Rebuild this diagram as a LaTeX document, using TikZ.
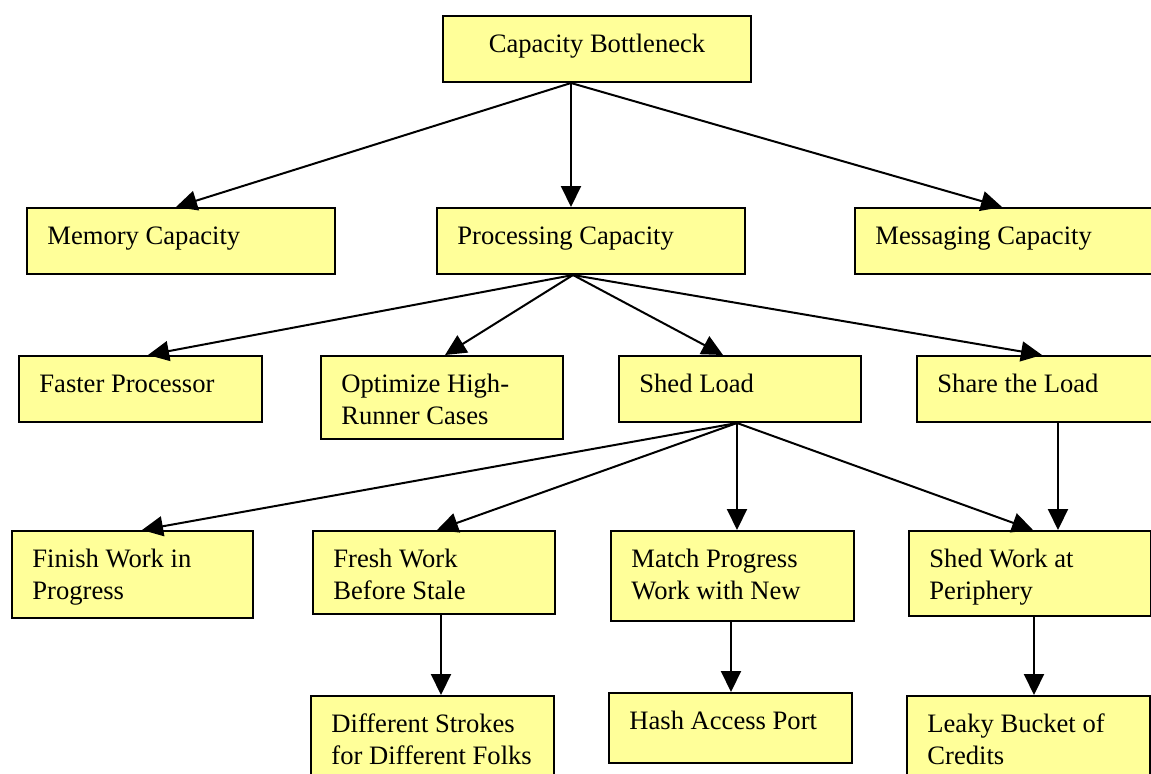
\documentclass[tikz,border=0pt]{standalone}
\usepackage{fontspec}
\setmainfont{Liberation Serif}
\usetikzlibrary{arrows.meta}
\definecolor{boxfill}{HTML}{FFFF99}
\tikzset{
  box/.style={draw=black, line width=1pt, fill=boxfill, rectangle,
    inner sep=0pt, anchor=north west},
  txt/.style={inner sep=0pt, anchor=north west, align=left,
    font=\fontsize{13.3}{16}\selectfont},
  link/.style={line width=1pt, -{Triangle[length=10.5pt, width=10pt]}},
}
% label placed in the upper left corner of a box
\newcommand{\boxtext}[2]{%
  \node[txt] (#1T) at ([shift={(10.5pt,-7.2pt)}]#1.north west) {\strut #2};}
\begin{document}
\begin{tikzpicture}[x=0.5pt, y=-0.5pt]
  \useasboundingbox (0,0) rectangle (1151,773);
  \clip (0,0) rectangle (1151,773);

  % boxes
  \node[box, minimum width=154pt, minimum height=33pt] (top) at (442,15) {};
  \node[txt, align=center, anchor=north] (topT) at ([yshift=-7.2pt]top.north) {\strut Capacity Bottleneck};

  \node[box, minimum width=154pt, minimum height=33pt] (mem) at (26,207) {};
  \boxtext{mem}{Memory Capacity}
  \node[box, minimum width=154pt, minimum height=33pt] (proc) at (436,207) {};
  \boxtext{proc}{Processing Capacity}
  \node[box, minimum width=154pt, minimum height=33pt] (msg) at (854,207) {};
  \boxtext{msg}{Messaging Capacity}

  \node[box, minimum width=121.5pt, minimum height=33pt] (fast) at (18,355) {};
  \boxtext{fast}{Faster Processor}
  \node[box, minimum width=121pt, minimum height=41.5pt] (opt) at (320,355) {};
  \boxtext{opt}{Optimize High-\\Runner Cases}
  \node[box, minimum width=121pt, minimum height=33pt] (shed) at (618,355) {};
  \boxtext{shed}{Shed Load}
  \node[box, minimum width=121pt, minimum height=33pt] (share) at (916,355) {};
  \boxtext{share}{Share the Load}

  \node[box, minimum width=120.5pt, minimum height=43.5pt] (finish) at (11,530) {};
  \boxtext{finish}{Finish Work in\\Progress}
  \node[box, minimum width=121pt, minimum height=41.5pt] (fresh) at (312,530) {};
  \boxtext{fresh}{Fresh Work\\Before Stale}
  \node[box, minimum width=121.5pt, minimum height=45pt] (match) at (610,530) {};
  \boxtext{match}{Match Progress\\Work with New}
  \node[box, minimum width=121pt, minimum height=42.5pt] (shedp) at (908,530) {};
  \boxtext{shedp}{Shed Work at\\Periphery}

  \node[box, minimum width=121.5pt, minimum height=42.5pt] (diff) at (310,695) {};
  \boxtext{diff}{Different Strokes\\for Different Folks}
  \node[box, minimum width=121.5pt, minimum height=35pt] (hash) at (608,692) {};
  \boxtext{hash}{Hash Access Port}
  \node[box, minimum width=121.5pt, minimum height=42.5pt] (leaky) at (906,695) {};
  \boxtext{leaky}{Leaky Bucket of\\Credits}

  % connectors
  \draw[link] ([xshift=64.5pt]top.south west) -- ([xshift=75pt]mem.north west);
  \draw[link] ([xshift=64.5pt]top.south west) -- ([xshift=67.5pt]proc.north west);
  \draw[link] ([xshift=64.5pt]top.south west) -- ([xshift=74pt]msg.north west);

  \draw[link] ([xshift=68.5pt]proc.south west) -- ([xshift=65pt]fast.north west);
  \draw[link] ([xshift=68.5pt]proc.south west) -- ([xshift=62.5pt]opt.north west);
  \draw[link] ([xshift=68.5pt]proc.south west) -- ([xshift=52.5pt]shed.north west);
  \draw[link] ([xshift=68.5pt]proc.south west) -- ([xshift=63pt]share.north west);

  \draw[link] ([xshift=59.5pt]shed.south west) -- ([xshift=65.5pt]finish.north west);
  \draw[link] ([xshift=59.5pt]shed.south west) -- ([xshift=62.5pt]fresh.north west);
  \draw[link] ([xshift=59.5pt]shed.south west) -- ([xshift=63.5pt]match.north west);
  \draw[link] ([xshift=59.5pt]shed.south west) -- ([xshift=62.5pt]shedp.north west);
  \draw[link] ([xshift=71pt]share.south west) -- ([xshift=75pt]shedp.north west);

  \draw[link] ([xshift=64.5pt]fresh.south west) -- ([xshift=65.5pt]diff.north west);
  \draw[link] ([xshift=60.5pt]match.south west) -- ([xshift=61.5pt]hash.north west);
  \draw[link] ([xshift=63pt]shedp.south west) -- ([xshift=64pt]leaky.north west);
\end{tikzpicture}
\end{document}
